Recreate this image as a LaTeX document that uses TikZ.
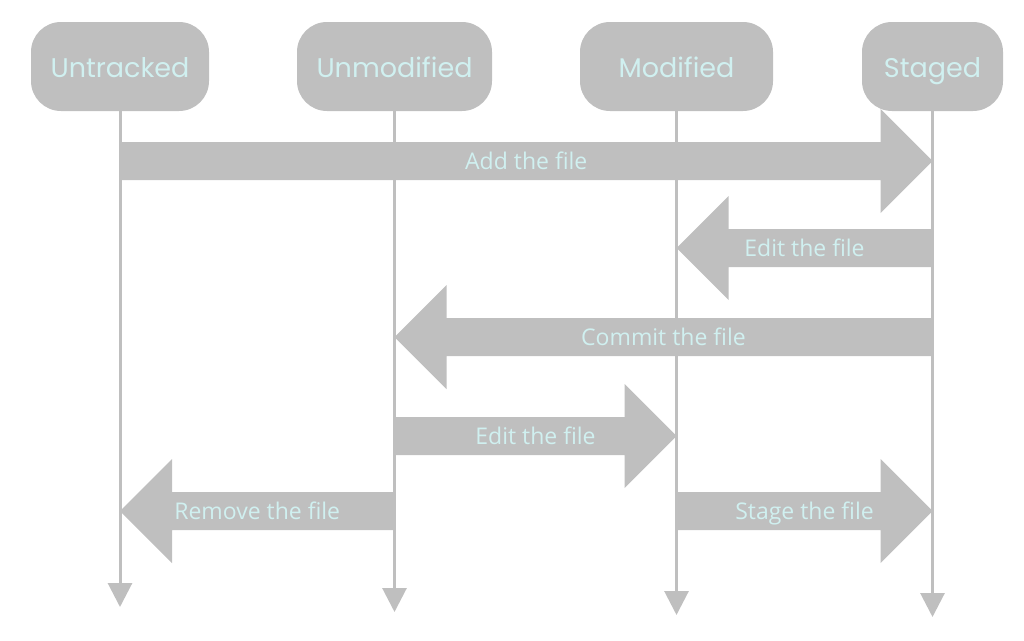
\documentclass[tikz,border=0pt]{standalone}
\usepackage{fontspec}
\setmainfont{Open Sans}
\newfontfamily\headfont{Poppins}
\usepackage{xcolor}
\usetikzlibrary{positioning,calc,arrows.meta}
\definecolor{boxgray}{RGB}{191,191,191}
\definecolor{lblcyan}{RGB}{208,240,240}

\newcommand{\blockarrow}[4]{%
  \coordinate (#3) at ($(#2)!52pt!(#1)$);
  \fill[boxgray] ($(#1)!19pt!90:(#2)$) -- ($(#3)!19pt!90:(#2)$) -- ($(#3)!52pt!90:(#2)$) -- (#2)
     -- ($(#3)!52pt!-90:(#2)$) -- ($(#3)!19pt!-90:(#2)$) -- ($(#1)!19pt!-90:(#2)$) -- cycle;
  \node[lbl] (#3-t) at ($(#1)!.5!(#2)$) {#4};}

\begin{document}
\begin{tikzpicture}[x=1pt,y=-1pt,
    state/.style={fill=boxgray,rounded corners=30pt,minimum height=89pt,inner sep=0pt,
      text height=27pt,text depth=5.4pt,
      text=lblcyan,font=\headfont\fontsize{27}{32}\selectfont},
    lbl/.style={text=lblcyan,font=\fontsize{23}{27}\selectfont,inner sep=0pt,
      text height=18.6pt,text depth=2.3pt},
    life/.style={draw=boxgray,line width=3pt,-{Triangle[width=24pt,length=24pt]}}]
  \useasboundingbox (0,0) rectangle (1024,640);
  \node[state,minimum width=178pt] (untr) at (120,66.5) {Untracked};
  \node[state,minimum width=195pt] (unmod) at (394.5,66.5) {Unmodified};
  \node[state,minimum width=193pt] (mod) at (676.5,66.5) {Modified};
  \node[state,minimum width=141pt] (stg) at (932.5,66.5) {Staged};
  \draw[life] (untr.south) -- (untr |- 0,607);
  \draw[life] (unmod.south) -- (unmod |- 0,612);
  \draw[life] (mod.south) -- (mod |- 0,615);
  \draw[life] (stg.south) -- (stg |- 0,617);
  \blockarrow{untr |- 0,161}{stg |- 0,161}{add}{Add the file}
  \blockarrow{stg |- 0,248}{mod |- 0,248}{edita}{Edit the file}
  \blockarrow{stg |- 0,337}{unmod |- 0,337}{commit}{Commit the file}
  \blockarrow{unmod |- 0,436}{mod |- 0,436}{editb}{Edit the file}
  \blockarrow{unmod |- 0,511}{untr |- 0,511}{remove}{Remove the file}
  \blockarrow{mod |- 0,511}{stg |- 0,511}{stage}{Stage the file}
\end{tikzpicture}
\end{document}
